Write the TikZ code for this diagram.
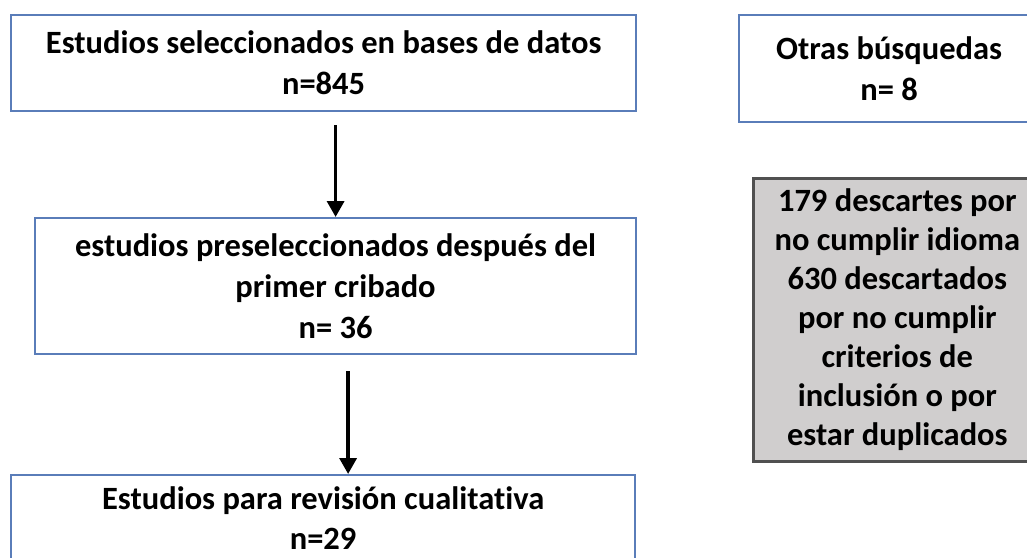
\documentclass[tikz,border=0pt]{standalone}
\usepackage{fontspec}
\setmainfont{Carlito}[Ligatures={NoCommon}]
\usetikzlibrary{arrows.meta}
\definecolor{boxblue}{HTML}{5A7DB9}
\definecolor{boxgray}{HTML}{D0CECE}
\definecolor{graydraw}{HTML}{505050}
\tikzset{
  blubox/.style={draw=boxblue, line width=2.2pt, fill=white, inner sep=0pt, anchor=north west, align=center,
    font=\fontsize{32.5}{41}\selectfont\bfseries},
  grybox/.style={draw=graydraw, line width=2.6pt, fill=boxgray, inner sep=0pt, anchor=north west, align=center,
    font=\fontsize{32.5}{39}\selectfont\bfseries},
  arr/.style={line width=3.5pt, -{Triangle[length=16pt,width=17pt]}}
}
\begin{document}
\begin{tikzpicture}[x=1pt,y=-1pt]
\useasboundingbox (0,0) rectangle (1027,557);
\clip (0,0) rectangle (1027,557);
\node[blubox, minimum width=625pt, minimum height=96pt] (b1) at (10,14)
  {Estudios seleccionados en bases de datos\\n=845};
\node[blubox, minimum width=601pt, minimum height=136pt] (b2) at (34,217)
  {estudios preseleccionados después del\\primer cribado\\n= 36};
\node[blubox, minimum width=624pt, minimum height=96pt, font=\fontsize{32.5}{40}\selectfont\bfseries] (b3) at (10,474)
  {Estudios para revisión cualitativa\\n=29\rule[-10pt]{0pt}{0pt}};
\node[blubox, minimum width=300pt, minimum height=107pt] (b4) at (738,14)
  {Otras búsquedas\\n= 8};
\node[grybox, minimum width=288pt, minimum height=283pt] (b5) at (752,177)
  {179 descartes por\\no cumplir idioma\\630 descartados\\por no cumplir\\criterios de\\inclusión o por\\estar duplicados};
\coordinate (a1) at ([yshift=-13pt]b1.south -| b2.north);
\draw[arr] (a1) -- (b2.north);
\coordinate (a2) at ([xshift=12.5pt,yshift=-16pt]b2.south);
\draw[arr] (a2) -- (a2 |- b3.north);
\end{tikzpicture}
\end{document}
